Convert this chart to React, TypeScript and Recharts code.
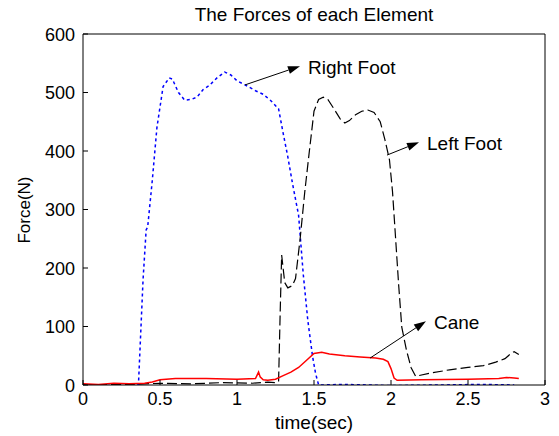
import React from "react";
import { Label, Line, LineChart, ReferenceLine, XAxis, YAxis } from "recharts";

// values
const rightFootTime = [0, 0.2, 0.36, 0.37, 0.39, 0.41, 0.42, 0.45, 0.48, 0.52, 0.56, 0.58, 0.62, 0.66, 0.7, 0.74, 0.78, 0.82, 0.87, 0.92, 0.96, 1.0, 1.06, 1.12, 1.17, 1.22, 1.27, 1.3, 1.33, 1.36, 1.4, 1.43, 1.46, 1.49, 1.51, 1.53, 1.7, 2.0, 2.3, 2.6, 2.8];
const rightFootForce = [0, -1, 0, 60, 180, 265, 270, 350, 440, 510, 525, 523, 500, 487, 488, 492, 505, 512, 525, 535, 530, 520, 512, 503, 497, 486, 472, 430, 390, 345, 290, 190, 110, 50, 20, 0, 1, -1, 0, 1, 0];

const leftFootTime = [0, 0.3, 0.5, 0.7, 0.9, 1.1, 1.2, 1.25, 1.27, 1.28, 1.29, 1.31, 1.33, 1.36, 1.38, 1.41, 1.44, 1.47, 1.5, 1.53, 1.56, 1.59, 1.63, 1.67, 1.7, 1.73, 1.77, 1.81, 1.85, 1.89, 1.93, 1.96, 1.99, 2.01, 2.03, 2.05, 2.07, 2.1, 2.13, 2.16, 2.25, 2.38, 2.5, 2.6, 2.68, 2.74, 2.78, 2.8, 2.83];
const leftFootForce = [0, 1, 3, 2, 4, 3, 5, 4, 6, 120, 222, 175, 166, 170, 182, 250, 330, 400, 468, 488, 492, 488, 472, 455, 448, 452, 462, 468, 470, 466, 450, 420, 385, 330, 250, 170, 99, 60, 30, 15, 20, 26, 30, 33, 39, 45, 54, 57, 52];

const caneTime = [0, 0.1, 0.2, 0.3, 0.4, 0.45, 0.5, 0.6, 0.8, 1.0, 1.12, 1.14, 1.15, 1.17, 1.2, 1.25, 1.3, 1.35, 1.4, 1.45, 1.5, 1.55, 1.6, 1.7, 1.8, 1.9, 1.95, 1.98, 2.0, 2.02, 2.04, 2.2, 2.5, 2.7, 2.75, 2.8, 2.83];
const caneForce = [2, 1, 3, 2, 3, 5, 9, 11, 11, 10, 11, 22, 14, 9, 8, 10, 16, 22, 30, 42, 54, 56, 53, 50, 48, 46, 44, 40, 28, 12, 8, 9, 10, 11, 13, 12, 11];

const timeTicks = [0, 0.5, 1, 1.5, 2, 2.5, 3];
const forceTicks = [0, 100, 200, 300, 400, 500, 600];

const toPoints = (t: number[], f: number[]) => t.map((time, i) => ({ time, force: f[i] }));
const rightFoot = toPoints(rightFootTime, rightFootForce);
const leftFoot = toPoints(leftFootTime, leftFootForce);
const cane = toPoints(caneTime, caneForce);

const font = "'Liberation Sans', Arial, sans-serif";
const tickFs = 18;
const textFs = 19;

const BottomTick = ({ x, y, payload }: any) => (
  <g>
    <line x1={x} y1={y} x2={x} y2={y - 5} stroke="#000" />
    <text x={x} y={y + 20} textAnchor="middle" fontSize={tickFs} fontFamily={font} fill="#000">{payload.value}</text>
  </g>
);
const TopTick = ({ x, y }: any) => <line x1={x} y1={y} x2={x} y2={y + 5} stroke="#000" />;
const LeftTick = ({ x, y, payload }: any) => (
  <g>
    <line x1={x} y1={y} x2={x + 5} y2={y} stroke="#000" />
    <text x={x - 8} y={y + 6.5} textAnchor="end" fontSize={tickFs} fontFamily={font} fill="#000">{payload.value}</text>
  </g>
);
const RightTick = ({ x, y }: any) => <line x1={x} y1={y} x2={x - 5} y2={y} stroke="#000" />;

const arrow = (text: string) => (props: any) => {
  const { x1, y1, x2, y2 } = props;
  const a = Math.atan2(y2 - y1, x2 - x1);
  const len = 12, w = 4;
  const bx = x2 - len * Math.cos(a), by = y2 - len * Math.sin(a);
  const pts = `${x2},${y2} ${bx - w * Math.sin(a)},${by + w * Math.cos(a)} ${bx + w * Math.sin(a)},${by - w * Math.cos(a)}`;
  return (
    <g>
      <line x1={x1} y1={y1} x2={bx} y2={by} stroke="#000" strokeWidth={1} />
      <polygon points={pts} fill="#000" />
      <text x={x2 + 8} y={y2 + 1.5} dominantBaseline="central" fontSize={textFs} fontFamily={font} fill="#000">{text}</text>
    </g>
  );
};

export default function App() {
  return (
    <div style={{ position: "absolute", left: 0, top: 0, background: "#fff" }}>
      <LineChart width={559} height={436} margin={{ top: 0, right: 0, bottom: 0, left: 0 }}>
        <XAxis xAxisId="b" dataKey="time" type="number" domain={[0, 3]} ticks={timeTicks} height={51}
          tickSize={0} tickMargin={0} tick={<BottomTick />} axisLine={{ stroke: "#000" }} allowDataOverflow>
          <Label content={() => (
            <text x={314} y={429} textAnchor="middle" fontSize={textFs} fontFamily={font} fill="#000">time(sec)</text>
          )} />
        </XAxis>
        <XAxis xAxisId="t" orientation="top" dataKey="time" type="number" domain={[0, 3]} ticks={timeTicks} height={34}
          tickSize={0} tickMargin={0} tick={<TopTick />} axisLine={{ stroke: "#000" }}>
          <Label content={() => (
            <text x={314} y={21} textAnchor="middle" fontSize={textFs} fontFamily={font} fill="#000">The Forces of each Element</text>
          )} />
        </XAxis>
        <YAxis yAxisId="l" dataKey="force" type="number" domain={[0, 600]} ticks={forceTicks} width={83}
          tickSize={0} tickMargin={0} tick={<LeftTick />} axisLine={{ stroke: "#000" }} allowDataOverflow>
          <Label content={() => (
            <text x={30} y={210} transform="rotate(-90 30 210)" textAnchor="middle" fontSize={17} fontFamily={font} fill="#000">Force(N)</text>
          )} />
        </YAxis>
        <YAxis yAxisId="r" orientation="right" dataKey="force" type="number" domain={[0, 600]} ticks={forceTicks} width={14}
          tickSize={0} tickMargin={0} tick={<RightTick />} axisLine={{ stroke: "#000" }} />

        <Line xAxisId="b" yAxisId="l" data={rightFoot} dataKey="force" stroke="#0000ff" strokeWidth={1.5} strokeDasharray="3 3" dot={false} isAnimationActive={false} />
        <Line xAxisId="b" yAxisId="l" data={leftFoot} dataKey="force" stroke="#000" strokeWidth={1.2} strokeDasharray="10 4" dot={false} isAnimationActive={false} />
        <Line xAxisId="b" yAxisId="l" data={cane} dataKey="force" stroke="#ff0000" strokeWidth={1.5} dot={false} isAnimationActive={false} />

        <ReferenceLine xAxisId="b" yAxisId="l" segment={[{ x: 1.052, y: 513 }, { x: 1.409, y: 545 }]} shape={arrow("Right Foot")} />
        <ReferenceLine xAxisId="b" yAxisId="l" segment={[{ x: 1.974, y: 393 }, { x: 2.182, y: 415 }]} shape={arrow("Left Foot")} />
        <ReferenceLine xAxisId="b" yAxisId="l" segment={[{ x: 1.864, y: 46 }, { x: 2.227, y: 109 }]} shape={arrow("Cane")} />
      </LineChart>
    </div>
  );
}
